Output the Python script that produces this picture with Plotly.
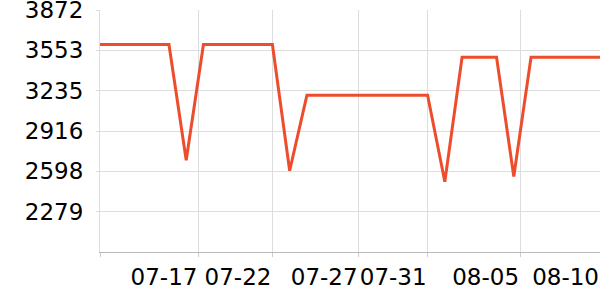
import plotly.graph_objects as go

dates = ["2024-07-%02d" % d for d in range(12, 32)] + ["2024-08-%02d" % d for d in range(1, 11)]
values = [3600, 3600, 3600, 3600, 3600, 2686, 3600, 3600, 3600, 3600,
          3600, 2602, 3198, 3198, 3198, 3198, 3198, 3198, 3198, 3198,
          2515, 3498, 3498, 3498, 2557, 3498, 3498, 3498, 3498, 3498]

x_tick_vals = ["2024-07-12", "2024-07-17 17:00", "2024-07-22", "2024-07-27",
               "2024-07-31", "2024-08-05 08:40", "2024-08-10"]
x_tick_text = ["", "07-17", "07-22", "07-27", "07-31", "08-05", "08-10"]

y_min, y_max = 1960.6, 3872
y_tick_vals = [2279.1, 2597.7, 2916.3, 3234.9, 3553.4, 3872]
y_tick_text = ["2279", "2598", "2916", "3235", "3553", "3872"]

tick_font = dict(family="DejaVu Sans", size=23, color="#000000")

fig = go.Figure(go.Scatter(
    x=dates, y=values, mode="lines",
    line=dict(color="#EE4D2D", width=3),
    hoverinfo="skip", cliponaxis=False,
))

fig.update_layout(
    width=600, height=300,
    margin=dict(l=100, r=0, t=10, b=48, autoexpand=False),
    paper_bgcolor="white", plot_bgcolor="white",
    font=tick_font,
    showlegend=False,
)
fig.update_xaxes(
    type="date",
    range=[dates[0], dates[-1]],
    tickmode="array", tickvals=x_tick_vals, ticktext=x_tick_text,
    tickangle=0, tickfont=tick_font, automargin=False,
    ticklabelposition="outside left", ticklabeloverflow="allow",
    ticks="outside", ticklen=4, tickcolor="#cccccc",
    showgrid=True, gridcolor="#dddddd", gridwidth=1,
    showline=True, linecolor="#bbbbbb", linewidth=1,
    zeroline=False, ticklabelstandoff=4,
)
fig.update_yaxes(
    range=[y_min, y_max],
    tickmode="array", tickvals=y_tick_vals, ticktext=y_tick_text,
    tickfont=tick_font, automargin=False, ticklabeloverflow="allow",
    ticks="outside", ticklen=3, tickcolor="#dddddd",
    showgrid=True, gridcolor="#dddddd", gridwidth=1,
    showline=True, linecolor="#dddddd", linewidth=1,
    zeroline=False, ticklabelstandoff=8,
)

fig.write_html("out.html")
